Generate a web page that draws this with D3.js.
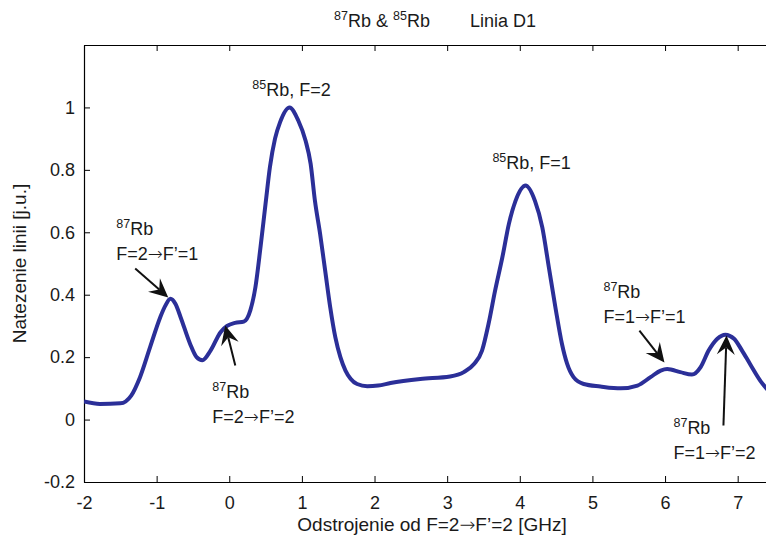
<!DOCTYPE html>
<html>
<head>
<meta charset="utf-8">
<script src="https://cdn.jsdelivr.net/npm/d3@7/dist/d3.min.js"></script>
<style>
  body { margin: 0; background: #fff; }
  text { font-family: "Liberation Sans", Arial, Helvetica, sans-serif; fill: #1a1a1a; }
  .arr { font-family: "Noto Sans", "DejaVu Sans", sans-serif; }
</style>
</head>
<body>
<div id="chart"></div>
<script>
// detuning [GHz] and line intensity [j.u.]
var detuning = [-2.00, -1.78, -1.50, -1.35, -1.23, -1.09, -0.95, -0.88, -0.81, -0.74, -0.67, -0.54, -0.45, -0.37,
  -0.26, -0.12, -0.03, 0.08, 0.20, 0.29, 0.36, 0.43, 0.50, 0.56, 0.63, 0.70, 0.83, 0.95, 1.05, 1.12, 1.18,
  1.25, 1.32, 1.39, 1.46, 1.53, 1.60, 1.67, 1.76, 1.90, 2.05, 2.22, 2.63, 3.04, 3.23, 3.37, 3.48, 3.57,
  3.66, 3.76, 3.85, 3.94, 4.08, 4.21, 4.31, 4.40, 4.49, 4.58, 4.65, 4.74, 4.88, 5.11, 5.39, 5.62, 5.80,
  5.94, 6.03, 6.21, 6.37, 6.49, 6.60, 6.72, 6.83, 6.95, 7.06, 7.17, 7.31, 7.45];
var intensity = [0.058, 0.050, 0.052, 0.077, 0.135, 0.232, 0.328, 0.365, 0.387, 0.370, 0.328, 0.243, 0.200, 0.190,
  0.220, 0.280, 0.300, 0.310, 0.314, 0.350, 0.424, 0.552, 0.692, 0.809, 0.900, 0.953, 1.000, 0.958, 0.894, 0.820, 0.700,
  0.596, 0.478, 0.360, 0.264, 0.200, 0.157, 0.131, 0.114, 0.107, 0.109, 0.117, 0.130, 0.138, 0.152, 0.178, 0.221, 0.307,
  0.413, 0.520, 0.627, 0.700, 0.750, 0.700, 0.616, 0.488, 0.360, 0.243, 0.180, 0.136, 0.114, 0.106, 0.100, 0.109, 0.136,
  0.157, 0.162, 0.152, 0.144, 0.168, 0.221, 0.259, 0.272, 0.259, 0.221, 0.178, 0.125, 0.085];

var xTicks = [-2, -1, 0, 1, 2, 3, 4, 5, 6, 7];
var yTicks = [-0.2, 0, 0.2, 0.4, 0.6, 0.8, 1];

// annotation texts, anchored in data coordinates
var labels = [
  {x: -1.556, y: 0.590, sup: "87", main: "Rb", line2: ["F=2", "F\u2019=1"]},
  {x: -0.234, y: 0.070, sup: "87", main: "Rb", line2: ["F=2", "F\u2019=2"]},
  {x: 0.317, y: 1.038, sup: "85", main: "Rb, F=2", line2: null},
  {x: 3.623, y: 0.804, sup: "85", main: "Rb, F=1", line2: null},
  {x: 5.152, y: 0.388, sup: "87", main: "Rb", line2: ["F=1", "F\u2019=1"]},
  {x: 6.116, y: -0.045, sup: "87", main: "Rb", line2: ["F=1", "F\u2019=2"]}
];
// arrows: tail -> head
var arrows = [
  {x0: -1.295, y0: 0.484, x1: -0.840, y1: 0.391},
  {x0: 0.083, y0: 0.173, x1: -0.055, y1: 0.301},
  {x0: 5.647, y0: 0.285, x1: 5.992, y1: 0.183},
  {x0: 6.804, y0: -0.019, x1: 6.846, y1: 0.269}
];

var W = 766, H = 536;
var margin = {top: 45, right: -8, bottom: 54, left: 84},
    width = W - margin.left - margin.right,
    height = H - margin.top - margin.bottom;

var svg = d3.select("#chart").append("svg")
  .attr("width", W)
  .attr("height", H);

var g = svg.append("g")
  .attr("transform", "translate(" + margin.left + "," + margin.top + ")");

var x = d3.scaleLinear().domain([-2, 7.5]).range([0, width]);
var y = d3.scaleLinear().domain([-0.2, 1.2]).range([height, 0]);

var fmt = function(d){ return String(d); };

// axes (MATLAB style, ticks pointing inward)
var xg = g.append("g")
  .attr("transform", "translate(0," + height + ")")
  .call(d3.axisBottom(x).tickValues(xTicks).tickFormat(fmt).tickSizeInner(-6).tickSizeOuter(0).tickPadding(14));
var xTop = g.append("g")
  .call(d3.axisTop(x).tickValues(xTicks).tickFormat("").tickSizeInner(-6).tickSizeOuter(0));
var yg = g.append("g")
  .call(d3.axisLeft(y).tickValues(yTicks).tickFormat(fmt).tickSizeInner(-6).tickSizeOuter(0).tickPadding(9));

[xg, xTop, yg].forEach(function(a){
  a.select(".domain").attr("stroke", "#000").attr("stroke-width", 1.2);
  a.selectAll(".tick line").attr("stroke", "#000");
  a.selectAll(".tick text").attr("font-size", 18).attr("fill", "#1a1a1a")
    .style("font-family", "'Liberation Sans', Arial, sans-serif");
});
xg.selectAll(".tick text").attr("dy", "0.72em");

// curve
var pts = detuning.map(function(d, i){ return [d, intensity[i]]; });
var line = d3.line()
  .x(function(d){ return x(d[0]); })
  .y(function(d){ return y(d[1]); })
  .curve(d3.curveMonotoneX);

g.append("clipPath").attr("id", "clip")
  .append("rect").attr("width", width).attr("height", height);

g.append("path")
  .datum(pts)
  .attr("clip-path", "url(#clip)")
  .attr("fill", "none")
  .attr("stroke", "#2b2f98")
  .attr("stroke-width", 4)
  .attr("stroke-linejoin", "round")
  .attr("d", line);

// arrows
function arrowHead(x0, y0, x1, y1) {
  var a = Math.atan2(y1 - y0, x1 - x0), L = 19, w = 9, n = 12;
  var c = Math.cos(a), s = Math.sin(a);
  function p(u, v){ return [x1 - u * c - v * s, y1 - u * s + v * c]; }
  var q = [[x1, y1], p(L, w), p(n, 0), p(L, -w)];
  return "M" + q.map(function(k){ return k.join(","); }).join("L") + "Z";
}
arrows.forEach(function(d){
  var x0 = x(d.x0), y0 = y(d.y0), x1 = x(d.x1), y1 = y(d.y1);
  var a = Math.atan2(y1 - y0, x1 - x0);
  g.append("line")
    .attr("x1", x0).attr("y1", y0)
    .attr("x2", x1 - 12 * Math.cos(a)).attr("y2", y1 - 12 * Math.sin(a))
    .attr("stroke", "#111").attr("stroke-width", 2);
  g.append("path").attr("d", arrowHead(x0, y0, x1, y1)).attr("fill", "#111");
});

// text with a leading superscript
function supText(sel, sup, main) {
  sel.append("tspan").attr("font-size", 12.5).attr("dy", -7).text(sup);
  sel.append("tspan").attr("dy", 7).text(main);
}
function arrowText(sel, parts) {
  sel.append("tspan").text(parts[0]);
  sel.append("tspan").attr("class", "arr").attr("font-weight", 300).text("\u2192");
  sel.append("tspan").text(parts[1]);
}

labels.forEach(function(d){
  var t = g.append("text")
    .attr("x", x(d.x)).attr("y", y(d.y))
    .attr("font-size", 18);
  supText(t, d.sup, d.main);
  if (d.line2) {
    var t2 = g.append("text")
      .attr("x", x(d.x)).attr("y", y(d.y) + 25)
      .attr("font-size", 18);
    arrowText(t2, d.line2);
  }
});

// title
var title = svg.append("text")
  .attr("x", 435).attr("y", 27)
  .attr("text-anchor", "middle")
  .attr("font-size", 18);
supText(title, "87", "Rb & ");
supText(title, "85", "Rb\u00a0\u00a0\u00a0\u00a0\u00a0\u00a0\u00a0\u00a0Linia D1");

// axis labels
var xl = svg.append("text")
  .attr("x", 432).attr("y", 531)
  .attr("text-anchor", "middle")
  .attr("font-size", 19);
arrowText(xl, ["Odstrojenie od F=2", "F\u2019=2 [GHz]"]);

svg.append("text")
  .attr("transform", "translate(26," + (margin.top + height / 2) + ") rotate(-90)")
  .attr("text-anchor", "middle")
  .attr("font-size", 19)
  .text("Natezenie linii [j.u.]");
</script>
</body>
</html>
